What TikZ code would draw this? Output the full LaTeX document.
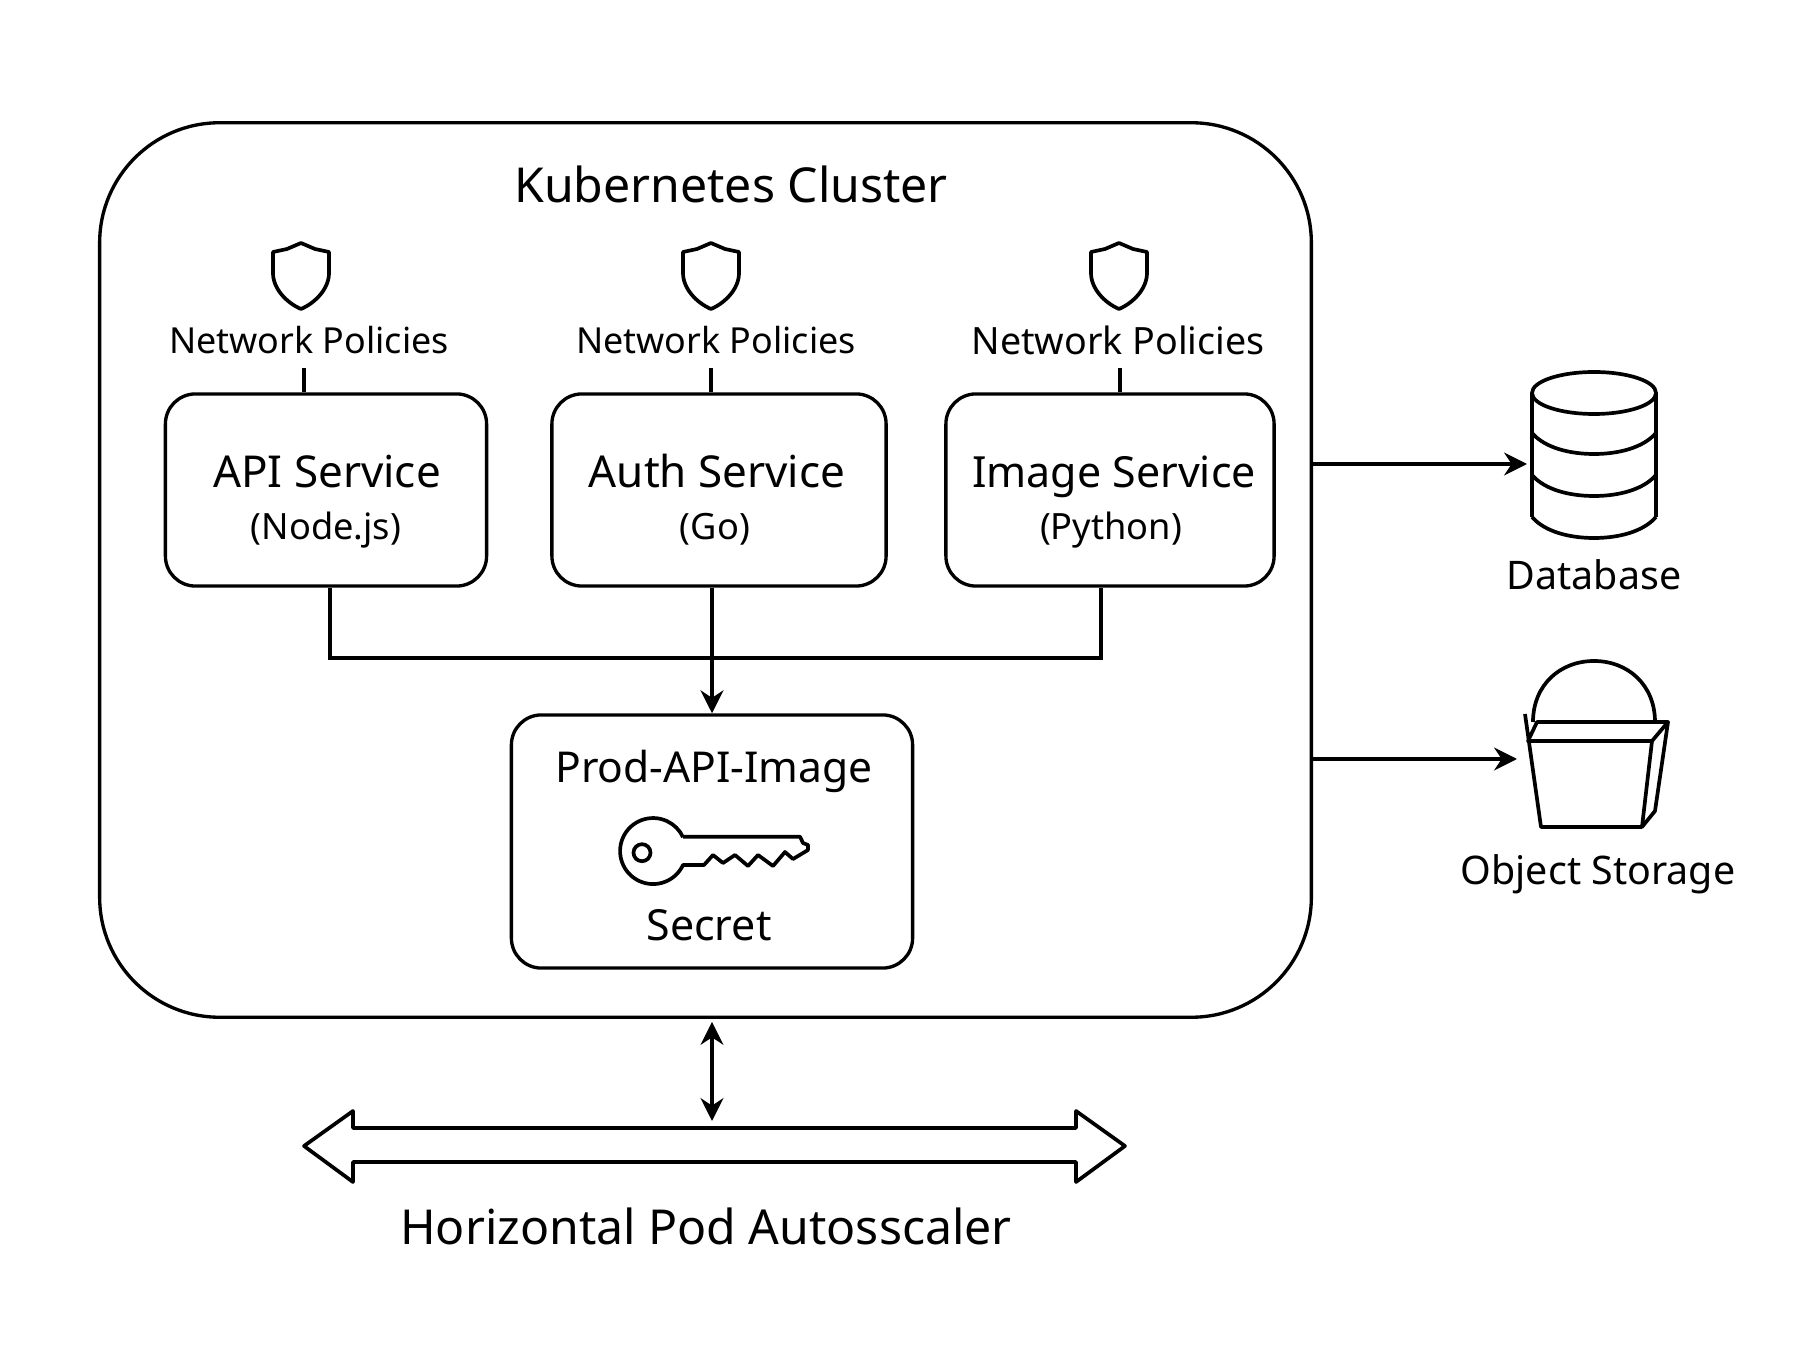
\documentclass[tikz,border=0pt]{standalone}
\usepackage{fontspec}
\setmainfont{Noto Sans}
\usepackage{tikz}
\usetikzlibrary{arrows.meta}

\tikzset{
  shield/.pic={
    \draw[iconline] (0,0) -- (-14,6) -- (-28,9) -- (-28,30)
      .. controls (-28,46) and (-14,60) .. (0,66)
      .. controls (14,60) and (28,46) .. (28,30) -- (28,9) -- (14,6) -- cycle;
  },
  iconline/.style={line width=1.05pt, line join=round},
  boxline/.style={draw, line width=0.95pt},
  svcbox/.style={boxline, rounded corners=0.3cm, minimum height=1.92cm},
  svcname/.style={font=\fontsize{12.5}{15}\selectfont, text height=10pt, text depth=3pt},
  svclang/.style={font=\fontsize{10.3}{13}\selectfont, text height=8pt, text depth=2.5pt},
  storelabel/.style={font=\fontsize{11.2}{13}\selectfont},
  link/.style={line width=0.9pt},
  arrowlink/.style={link, -{Stealth[length=6.5pt,width=6.5pt]}},
  botharrow/.style={link, {Stealth[length=6.5pt,width=6.5pt]}-{Stealth[length=6.5pt,width=6.5pt]}},
}

\begin{document}
\begin{tikzpicture}[x=0.01cm, y=-0.01cm]
\useasboundingbox (0,0) rectangle (1802,1358);

\node[boxline, rounded corners=1.2cm, minimum width=12.11cm, minimum height=8.94cm] (cluster) at (705.5,570) {};
\node[font=\fontsize{13.7}{18}\selectfont] (clustertitle) at (731,184) {Kubernetes Cluster};

\node[svcbox, minimum width=3.21cm] (apibox) at (326,490) {};
\node[svcbox, minimum width=3.34cm] (authbox) at (719,490) {};
\node[svcbox, minimum width=3.28cm] (imagebox) at (1110,490) {};

\node[svcname] (apiname) at (327,475) {API Service};
\node[svclang] (apilang) at (326,530) {(Node.js)};
\node[svcname] (authname) at (717,475) {Auth Service};
\node[svclang] (authlang) at (715,530) {(Go)};
\node[svcname, font=\fontsize{12.2}{15}\selectfont] (imagename) at (1114,475) {Image Service};
\node[svclang] (imagelang) at (1111,530) {(Python)};

% shield, label and tick above each service
\foreach \name/\sx/\lx/\tx/\fs in {api/301/309/304/10.2, auth/711/716/711/10.2, image/1119/1118/1120/10.7} {
  \pic at (\sx,243) {shield};
  \node[font=\fontsize{\fs}{13}\selectfont] (net\name) at (\lx,340) {Network Policies};
  \coordinate (tick\name) at (\tx,368);
  \draw[link] (tick\name) -- (tick\name |- \name box.north);
}

\node[boxline, rounded corners=0.3cm, minimum width=4.01cm, minimum height=2.53cm] (secretbox) at (712,841.5) {};
\node[font=\fontsize{12.1}{15}\selectfont] (secretname) at (714,771) {Prod-API-Image};
\node[font=\fontsize{12.2}{15}\selectfont] (secretlabel) at (709,925) {Secret};

% key
\draw[iconline] (683,836.7) -- (800,836.7) -- (803,843) -- (808,845) -- (808,850) -- (793,859)
  -- (785,852) -- (773,866) -- (758,855) -- (748,866) -- (735,855) -- (723,863)
  -- (713,855) -- (704,865) -- (683,865) arc[start angle=25, end angle=335, radius=33];
\draw[iconline] (642,852.7) circle (8.5);

% links to the secret
\coordinate (busjoin) at (712,658);
\draw[link] ([xshift=0.04cm]apibox.south) |- (busjoin) -| ([xshift=-0.09cm]imagebox.south);
\draw[arrowlink] (secretbox.north |- authbox.south) -- (secretbox.north);

% database
\draw[iconline] (1594,393) ellipse [x radius=62, y radius=21];
\draw[iconline] (1532,393) -- (1532,517) (1656,393) -- (1656,517);
\foreach \y in {433,475,517}
  \draw[iconline] (1532,\y) .. controls (1545,\y+15) and (1570,\y+21) .. (1594,\y+21)
    .. controls (1618,\y+21) and (1643,\y+15) .. (1656,\y);
\node[storelabel] (dblabel) at (1594,575) {Database};

% bucket
\draw[iconline] (1533,722) .. controls (1533,685) and (1560,661) .. (1594,661)
  .. controls (1628,661) and (1655,685) .. (1655,722);
\draw[iconline] (1525,714) -- (1541,827) -- (1642,827) -- (1652,741) -- (1528,741) -- (1537,722) -- (1668,722) -- (1655,811) -- (1642,827);
\draw[iconline] (1652,741) -- (1668,722);
\node[storelabel] (storagelabel) at (1598,874) {Object Storage};

\coordinate (dbport) at (1527,464);
\coordinate (bucketport) at (1517,759);
\draw[arrowlink] (cluster.east |- dbport) -- (dbport);
\draw[arrowlink] (cluster.east |- bucketport) -- (bucketport);

% autoscaler
\draw[iconline] (304,1146) -- (353,1111) -- (353,1128) -- (1076,1128) -- (1076,1111) -- (1125,1146)
  -- (1076,1182) -- (1076,1162) -- (353,1162) -- (353,1182) -- cycle;
\coordinate (hpatop) at (712,1121);
\draw[botharrow] (hpatop |- cluster.south) ++(0,3) -- (hpatop);
\node[font=\fontsize{13.7}{18}\selectfont] (hpalabel) at (706,1226) {Horizontal Pod Autosscaler};
\end{tikzpicture}
\end{document}
